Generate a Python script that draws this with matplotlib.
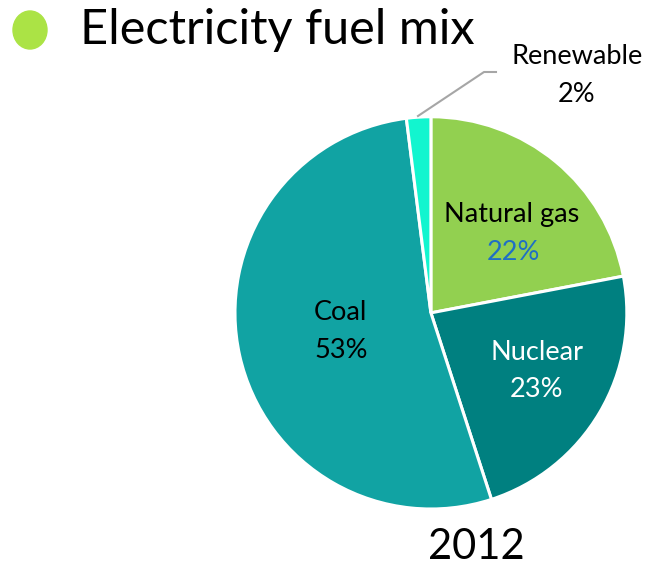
import matplotlib.pyplot as plt
from matplotlib.patches import Ellipse

plt.rcParams['font.family'] = ['Lato', 'DejaVu Sans']

# data
labels = ['Natural gas', 'Nuclear', 'Coal', 'Renewable']
shares = [22, 23, 53, 2]
colors = ['#92D050', '#008080', '#11A3A3', '#12F5CF']

fig = plt.figure(figsize=(6.52, 5.66), dpi=100)
ax = fig.add_axes([0.3604, 0.1007, 0.601, 0.693])
wedges, _ = ax.pie(shares, colors=colors, startangle=90, counterclock=False,
                   radius=1.0, wedgeprops=dict(edgecolor='white', linewidth=2.2))
ax.set_xlim(-1, 1)
ax.set_ylim(-1, 1)
ax.set_aspect('auto')
ax.axis('off')

fs = 19.5
# in-slice labels (positions in data units of the pie axes)
ax.text(0.41, 0.50, 'Natural gas', ha='center', va='center', fontsize=fs, color='black')
ax.text(0.42, 0.31, '22%', ha='center', va='center', fontsize=fs, color='#1F6FC5')
ax.text(0.54, -0.20, 'Nuclear', ha='center', va='center', fontsize=fs, color='white')
ax.text(0.54, -0.39, '23%', ha='center', va='center', fontsize=fs, color='white')
ax.text(-0.46, 0.0, 'Coal', ha='center', va='center', fontsize=fs, color='black')
ax.text(-0.46, -0.19, '53%', ha='center', va='center', fontsize=fs, color='black')

# renewable callout
fig.text(577 / 652, 1 - 57 / 566, 'Renewable', ha='center', va='center', fontsize=fs)
fig.text(577 / 652, 1 - 95 / 566, '2%', ha='center', va='center', fontsize=fs)
fig.add_artist(plt.Line2D([418 / 652, 484 / 652, 496 / 652],
                          [1 - 116 / 566, 1 - 72 / 566, 1 - 72 / 566],
                          color='#A6A6A6', linewidth=1.5))

# title with bullet
fig.add_artist(Ellipse((30 / 652, 1 - 30 / 566), 34 / 652, 38 / 566,
                       color='#ABE345', transform=fig.transFigure))
fig.text(80 / 652, 1 - 30 / 566, 'Electricity fuel mix', ha='left', va='center', fontsize=35)

fig.text(476 / 652, 1 - 547 / 566, '2012', ha='center', va='center', fontsize=30)

fig.savefig('out.png', dpi=100)
